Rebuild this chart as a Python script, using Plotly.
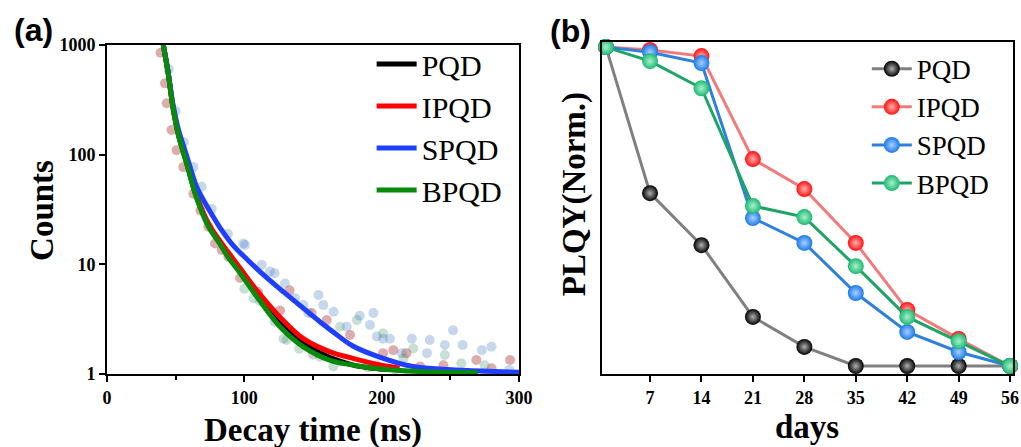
import plotly.graph_objects as go

# ---------------- Panel (a): TRPL decay ----------------
# fitted decay curves
t_fit_PQD = [41, 44.5, 48, 52, 58, 65, 74, 82, 88, 97, 111, 126, 143, 162, 180, 194, 206]
c_fit_PQD = [1000, 560, 272, 152, 84, 42, 22.5, 15.8, 12.0, 8.6, 5.0, 2.9, 1.9, 1.42, 1.2, 1.13, 1.1]

t_fit_IPQD = [41, 44.5, 48, 52, 58, 65, 74, 82, 88, 97, 111, 126, 143, 162, 179, 200, 213]
c_fit_IPQD = [1000, 560, 275, 155, 86, 43, 23.5, 16.5, 13, 9.2, 5.4, 3.3, 2.1, 1.6, 1.39, 1.2, 1.13]

t_fit_SPQD = [41, 44.5, 48, 52, 58, 65, 70, 76, 83.5, 92, 103, 114, 125, 136, 146, 155, 165, 179, 199, 223, 259, 300]
c_fit_SPQD = [1000, 570, 290, 170, 98, 52, 39, 29, 20.5, 14.8, 10.8, 8.0, 6.1, 4.7, 3.7, 3.0, 2.4, 1.8, 1.42, 1.17, 1.08, 1.04]

t_fit_BPQD = [41, 44.5, 48, 52, 58, 65, 74, 82, 88, 97, 111, 126, 143, 162, 180, 194, 230, 270]
c_fit_BPQD = [1000, 555, 270, 150, 83, 41, 22, 15.5, 11.7, 8.3, 4.7, 2.7, 1.77, 1.34, 1.2, 1.13, 1.05, 1.03]

# measured points (faded dots)
t_pts_PQD = [150, 170, 190, 210, 235]
c_pts_PQD = [1.5, 1.3, 1.15, 1.1, 1.05]

t_pts_IPQD = [39, 42.2, 43.5, 47, 50.7, 55.6, 62.9, 68, 73.8, 78.7, 83.5, 88.4, 96.9, 110, 126, 133,
              149, 160, 177, 201, 208.5, 218, 228, 245, 269, 280, 293.5]
c_pts_IPQD = [850, 447, 294, 168, 110, 77, 44, 31, 22, 15.5, 13.5, 11.7, 7.5, 5.6, 3.8, 5.8,
              3.6, 3.1, 2.27, 1.55, 1.65, 1.55, 1.17, 1.2, 1.34, 1.13, 1.34]

t_pts_SPQD = [45, 50, 56, 62.9, 68.9, 76.3, 88, 99.3, 100.5, 112.7, 118.7, 122, 129.6, 137, 143, 146.6,
              154, 157.5, 165, 174.6, 184, 191.5, 194, 196.5, 201, 206, 214.6, 222, 233, 235, 246,
              252, 259, 273, 280, 293]
c_pts_SPQD = [600, 250, 130, 77, 51, 32, 19, 15.5, 15, 9.9, 8.6, 8.3, 6.7, 4.9, 4.25, 3.6,
              5.25, 4.25, 3.7, 2.7, 3.4, 2.8, 3.6, 2.2, 2.1, 2.1, 1.55, 2.1, 1.55, 2.04, 1.84,
              2.5, 1.84, 1.65, 1.77, 1.09]

t_pts_BPQD = [100, 106.6, 111.4, 122, 128.5, 130.8, 140, 155, 164.8, 169.7, 182, 196.4, 201, 216,
              223, 246, 258, 275]
c_pts_BPQD = [6.0, 4.9, 4.6, 3.0, 2.1, 2.04, 1.7, 1.44, 1.17, 2.7, 3.1, 1.2, 2.35, 1.39,
              1.71, 1.49, 1.25, 1.2]

# ---------------- Panel (b): PLQY vs days ----------------
days = [1, 7, 14, 21, 28, 35, 42, 49, 56]
day_ticks = [7, 14, 21, 28, 35, 42, 49, 56]
plqy_PQD = [1.0, 0.542, 0.379, 0.154, 0.060, 0.0, 0.0, 0.0, 0.0]
plqy_IPQD = [1.0, 0.991, 0.972, 0.649, 0.555, 0.386, 0.176, 0.085, 0.0]
plqy_SPQD = [1.0, 0.984, 0.950, 0.464, 0.386, 0.229, 0.107, 0.044, 0.0]
plqy_BPQD = [1.0, 0.956, 0.871, 0.502, 0.467, 0.313, 0.154, 0.078, 0.0]

names = ["PQD", "IPQD", "SPQD", "BPQD"]
fit_colors = ["#000000", "#ff0000", "#1f3fff", "#0a8a0a"]
dot_colors = ["rgba(110,110,110,0.32)", "rgba(170,50,50,0.40)",
              "rgba(80,130,195,0.32)", "rgba(70,150,115,0.30)"]
line_b = ["#808080", "#f27a7a", "#2f80dc", "#1ea466"]
mark_b = ["#000000", "#ff1010", "#1a7ae8", "#1db872"]
mark_c = ["#b0b0b0", "#ffb0b0", "#a8d0ff", "#a8f0cc"]

fig = go.Figure()

fits = [(t_fit_PQD, c_fit_PQD), (t_fit_IPQD, c_fit_IPQD), (t_fit_SPQD, c_fit_SPQD), (t_fit_BPQD, c_fit_BPQD)]
pts = [(t_pts_PQD, c_pts_PQD), (t_pts_IPQD, c_pts_IPQD), (t_pts_SPQD, c_pts_SPQD), (t_pts_BPQD, c_pts_BPQD)]

for i in range(4):
    fig.add_trace(go.Scatter(x=pts[i][0], y=pts[i][1], mode="markers",
                             marker=dict(size=10, color=dot_colors[i]),
                             showlegend=False, xaxis="x", yaxis="y", hoverinfo="skip"))
for i in range(4):
    fig.add_trace(go.Scatter(x=fits[i][0], y=fits[i][1], mode="lines", name=names[i],
                             line=dict(color=fit_colors[i], width=5, shape="spline", smoothing=1),
                             xaxis="x", yaxis="y", legend="legend"))

plqy = [plqy_PQD, plqy_IPQD, plqy_SPQD, plqy_BPQD]
for i in range(4):
    fig.add_trace(go.Scatter(x=days, y=plqy[i], mode="lines+markers", name=names[i],
                             line=dict(color=line_b[i], width=3),
                             marker=dict(size=16, color=mark_b[i],
                                         gradient=dict(type="radial", color=mark_c[i])),
                             cliponaxis=False, xaxis="x2", yaxis="y2", legend="legend2"))

tickfont = dict(family="Liberation Serif", size=18, color="black")
axis_common = dict(showline=True, linecolor="black", linewidth=2, mirror=True,
                   showgrid=False, zeroline=False, ticks="outside", tickwidth=2,
                   tickcolor="black", ticklen=6, tickfont=tickfont, automargin=False)


def label(text, x, y, size, family="Liberation Serif", angle=0):
    return dict(text=text, x=x, y=y, xref="paper", yref="paper", showarrow=False,
                xanchor="center", yanchor="middle", textangle=angle,
                font=dict(family=family, size=size, color="black"))


fig.update_layout(
    width=1021, height=447,
    margin=dict(l=0, r=0, t=0, b=0, autoexpand=False),
    paper_bgcolor="white", plot_bgcolor="white",
    font=dict(family="Liberation Serif", color="black"),
    xaxis=dict(domain=[0.1048, 0.5083], range=[0, 300],
               tickvals=[0, 100, 200, 300], ticktext=["<b>0</b>", "<b>100</b>", "<b>200</b>", "<b>300</b>"],
               minor=dict(tickvals=[50, 150, 250], ticks="outside", ticklen=4, tickwidth=2, tickcolor="black"),
               anchor="y", **axis_common),
    yaxis=dict(domain=[0.1633, 0.8993], type="log", range=[0, 3],
               tickvals=[1, 10, 100, 1000], ticktext=["<b>1</b>", "<b>10</b>", "<b>100</b>", "<b>1000</b>"],
               anchor="x", **axis_common),
    xaxis2=dict(domain=[0.5896, 0.9922], range=[0.46, 56.4],
                tickvals=day_ticks, ticktext=["<b>%d</b>" % d for d in day_ticks],
                anchor="y2", **axis_common),
    yaxis2=dict(domain=[0.1633, 0.906], range=[-0.025, 1.016], anchor="x2",
                showline=True, linecolor="black", linewidth=2, mirror=True, automargin=False,
                showgrid=False, zeroline=False, showticklabels=False, ticks=""),
    legend=dict(x=0.364, y=0.915, xanchor="left", yanchor="top",
                font=dict(family="Liberation Serif", size=30, color="black"),
                bgcolor="rgba(0,0,0,0)", tracegroupgap=0, itemwidth=40),
    legend2=dict(x=0.849, y=0.9, xanchor="left", yanchor="top",
                 font=dict(family="Liberation Serif", size=27, color="black"),
                 bgcolor="rgba(0,0,0,0)", tracegroupgap=0, itemwidth=40),
    annotations=[
        label("<b>(a)</b>", 0.033, 0.933, 32, "Liberation Sans"),
        label("<b>(b)</b>", 0.559, 0.931, 32, "Liberation Sans"),
        label("<b>Counts</b>", 0.041, 0.530, 33, angle=-90),
        label("<b>Decay time (ns)</b>", 0.307, 0.038, 33),
        label("<b>PLQY(Norm.)</b>", 0.563, 0.565, 33, angle=-90),
        label("<b>days</b>", 0.790, 0.045, 33),
    ],
)

fig.write_html("out.html", config={"displayModeBar": False},
               post_script="document.body.style.margin='0px';")
